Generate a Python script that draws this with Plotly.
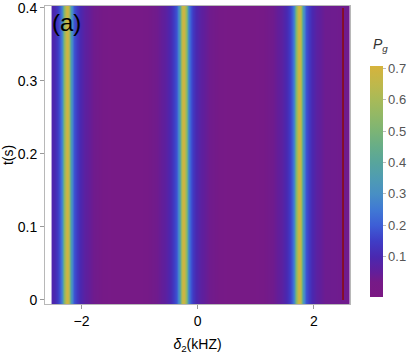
import plotly.graph_objects as go

# detuning delta_2 (kHz) and ground-state population P_g
# (the map is constant along t, so one row describes it)
delta = [-2.50, -2.47, -2.41, -2.37, -2.34, -2.32, -2.30, -2.28, -2.25, -2.22,
         -2.20, -2.18, -2.16, -2.13, -2.09, -2.03, -1.95, -1.80, -1.55, -1.25,
         -0.95, -0.70, -0.55, -0.47, -0.41, -0.37, -0.34, -0.32, -0.30, -0.28,
         -0.25, -0.22, -0.20, -0.18, -0.16, -0.13, -0.09, -0.03, 0.05, 0.20,
         0.45, 0.75, 1.04, 1.29, 1.44, 1.52, 1.58, 1.62, 1.65, 1.67,
         1.69, 1.71, 1.74, 1.77, 1.79, 1.81, 1.83, 1.86, 1.90, 1.96,
         2.04, 2.19, 2.50]
pg = [0.09, 0.105, 0.145, 0.19, 0.26, 0.35, 0.50, 0.64, 0.70, 0.64,
      0.50, 0.35, 0.26, 0.19, 0.145, 0.105, 0.065, 0.03, 0.015, 0.01,
      0.015, 0.03, 0.065, 0.105, 0.145, 0.19, 0.26, 0.35, 0.50, 0.64,
      0.70, 0.64, 0.50, 0.35, 0.26, 0.19, 0.145, 0.105, 0.065, 0.03,
      0.015, 0.01, 0.015, 0.03, 0.065, 0.105, 0.145, 0.19, 0.26, 0.35,
      0.50, 0.64, 0.70, 0.64, 0.50, 0.35, 0.26, 0.19, 0.145, 0.105,
      0.065, 0.035, 0.03]
t = [0.0, 0.4]

x_ticks = [-2, 0, 2]
x_labels = ["\u22122", "0", "2"]
y_ticks = [0, 0.1, 0.2, 0.3, 0.4]
y_labels = ["0", "0.1", "0.2", "0.3", "0.4"]
cb_ticks = [0.1, 0.2, 0.3, 0.4, 0.5, 0.6, 0.7]

zmin, zmax = -0.028, 0.707

# Mathematica-like density gradient
stops = [(-0.028, "#7b1883"), (0.02, "#761a87"), (0.05, "#631e9a"),
         (0.10, "#4a28b0"), (0.15, "#3f3dc6"), (0.20, "#3d5ed6"),
         (0.25, "#4079d4"), (0.30, "#488fc4"), (0.35, "#4f9cb2"),
         (0.40, "#58a59c"), (0.45, "#67ad88"), (0.50, "#7cb475"),
         (0.55, "#92b866"), (0.60, "#a8ba58"), (0.65, "#bfb84b"),
         (0.707, "#d6b33c")]
colorscale = [[(v - zmin) / (zmax - zmin), c] for v, c in stops]

font = "Liberation Sans, Arial, sans-serif"

fig = go.Figure()
fig.add_trace(go.Heatmap(
    x=delta, y=t, z=[pg for _ in t],
    zmin=zmin, zmax=zmax, zsmooth="best",
    colorscale=colorscale,
    colorbar=dict(
        x=1.066, xanchor="left", xref="paper",
        y=0.0235, yanchor="bottom",
        len=231, lenmode="pixels",
        thickness=13, outlinewidth=0, xpad=0, ypad=0,
        tickvals=cb_ticks, ticks="outside", ticklen=3,
        tickcolor="#bbbbbb",
        tickfont=dict(family=font, size=13, color="#555555"),
    ),
    hovertemplate="δ2=%{x}<br>t=%{y}<br>Pg=%{z}<extra></extra>",
))

# thin dark edge at the right border of the map
fig.add_shape(type="line", x0=delta[-1], x1=delta[-1], y0=t[0], y1=t[-1],
              xref="x", yref="y", line=dict(color="#8b0a0a", width=1.5))

fig.add_annotation(text="(a)", x=0.015, y=0.995, xref="paper", yref="paper",
                   xanchor="left", yanchor="top", showarrow=False,
                   font=dict(family=font, size=24, color="black"))

# colorbar title, sitting above the bar
fig.add_annotation(text="<i>P</i><sub><i>g</i></sub>", x=1.1, y=0.87,
                   xref="paper", yref="paper", xanchor="center",
                   yanchor="middle", showarrow=False,
                   font=dict(family=font, size=14, color="#333333"))

axis_common = dict(showgrid=False, zeroline=False, showline=True, mirror=True,
                   linecolor="#b8b8b8", linewidth=1, ticks="outside",
                   ticklen=4, tickcolor="#999999", automargin=False,
                   ticklabeloverflow="allow",
                   tickfont=dict(family=font, size=14, color="black"))

fig.update_layout(
    width=410, height=354,
    margin=dict(l=45, r=60, t=6, b=50, autoexpand=False),
    plot_bgcolor="white", paper_bgcolor="white",
    xaxis=dict(range=[-2.628, 2.62], tickvals=x_ticks, ticktext=x_labels,
               title=dict(text="<i>δ</i><sub>2</sub>(kHZ)", standoff=12,
                          font=dict(family=font, size=14, color="black")),
               **axis_common),
    yaxis=dict(range=[-0.0055, 0.4027], tickvals=y_ticks, ticktext=y_labels,
               title=dict(text="t(s)", standoff=6,
                          font=dict(family=font, size=14, color="black")),
               **axis_common),
)

# the page's default body margin would shift the figure by 8 px
fig.write_html("out.html", config={"displayModeBar": False},
               post_script="document.body.style.margin = '0';")
